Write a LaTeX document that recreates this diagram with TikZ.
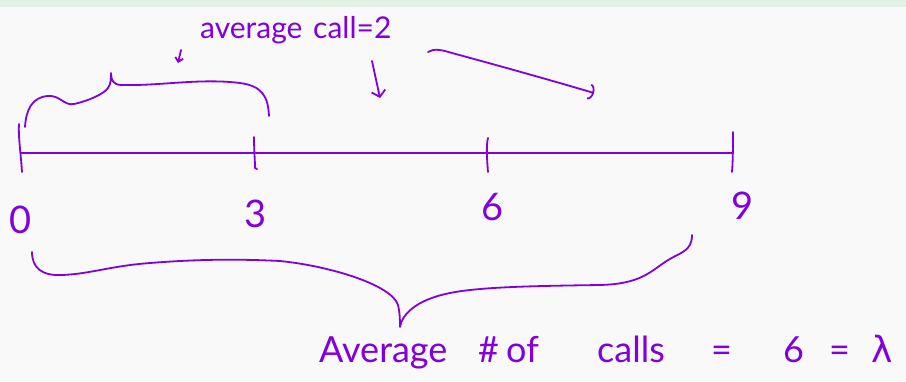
\documentclass[tikz,border=0pt]{standalone}
\usepackage{fontspec}
\setmainfont{Lato}
\newfontfamily\greekfont{DejaVu Sans}
\usetikzlibrary{arrows.meta}
\definecolor{ink}{RGB}{130,0,220}
\definecolor{bgc}{RGB}{249,249,249}
\definecolor{band}{RGB}{226,242,228}
\begin{document}
\begin{tikzpicture}[x=1pt,y=-1pt,
  inkline/.style={draw=ink,line width=1.8pt,line cap=round,line join=round},
  lbl/.style={text=ink,inner sep=0pt},
  big/.style={lbl,anchor=base west,font=\fontsize{36}{40}\selectfont},
  small/.style={lbl,anchor=base west,font=\fontsize{30}{34}\selectfont},
  digit/.style={lbl,font=\fontsize{38}{42}\selectfont}]
\fill[bgc] (0,0) rectangle (906,381);
\fill[band] (0,0) rectangle (906,7);
\useasboundingbox (0,0) rectangle (906,381);

% number line
\coordinate (L0) at (21,153);
\coordinate (L9) at (733,153);
\draw[inkline] (L0) -- (L9);
% ticks
\draw[inkline] (19,124) .. controls (18,135) and (21,155) .. (22,172);
\draw[inkline] (254,137) .. controls (254,150) and (255,160) .. (255,168) -- (257,169);
\draw[inkline] (488,138) .. controls (486,145) and (487,160) .. (488,172);
\draw[inkline] (733,132) .. controls (733,145) and (733,160) .. (732,172);

% tick labels
\node[digit] (n0) at (21,220) {0};
\node[digit] (n3) at (256,214) {3};
\node[digit] (n6) at (493,207) {6};
\node[digit] (n9) at (743,206) {9};

% upper brace
\draw[inkline] (25,127) .. controls (26,110) and (32,97) .. (48,96)
  .. controls (60,95) and (64,106) .. (74,104)
  .. controls (88,101) and (104,94) .. (108,88)
  .. controls (111,84) and (111,78) .. (111,73)
  .. controls (111,80) and (113,85) .. (122,85)
  .. controls (160,86) and (200,78) .. (240,83)
  .. controls (262,86) and (268,96) .. (269,116);

% lower brace
\draw[inkline] (32,252) .. controls (32,268) and (42,276) .. (62,275)
  .. controls (90,274) and (110,266) .. (150,263)
  .. controls (200,259) and (240,259) .. (280,261)
  .. controls (330,266) and (392,285) .. (398,305)
  .. controls (400,313) and (400,322) .. (400,327)
  .. controls (402,315) and (415,300) .. (450,293)
  .. controls (480,287) and (530,286) .. (600,285)
  .. controls (640,284) and (650,272) .. (665,262)
  .. controls (680,252) and (692,252) .. (692,235);

% arrows
\coordinate (s1) at (181,50);
\coordinate (s2) at (178,63);
\draw[inkline,-{Straight Barb[length=4pt,width=8pt]}] (s1) -- (s2);
\coordinate (m1) at (372,61);
\coordinate (m2) at (380,98);
\draw[inkline,-{Straight Barb[length=6pt,width=14pt]}] (m1) -- (m2);
\coordinate (a1) at (428,52);
\coordinate (a2) at (594,93);
\draw[inkline,-{Arc Barb[length=5pt,width=16pt]}] (a1) .. controls (434,48) and (442,50) .. (452,53)
  .. controls (500,66) and (550,80) .. (a2);

% top text
\node[small] (t1) at (200,38) {average};
\node[small] (t2) at (313,38) {call=2};

% bottom text
\node[big] (b1) at (319,362) {Average};
\node[big] (b2) at (478,362) {\#};
\node[big] (b3) at (506,362) {of};
\node[big] (b4) at (597,362) {calls};
\node[big] (b5) at (711,362) {=};
\node[big] (b6) at (783,362) {6};
\node[big] (b7) at (829,362) {=};
\node[big] (b8) at (871,362) {\greekfont λ};
\end{tikzpicture}
\end{document}
